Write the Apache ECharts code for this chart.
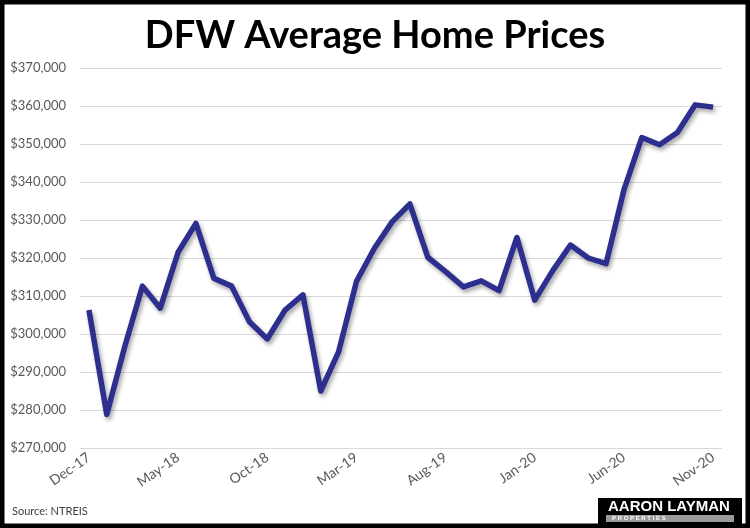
<!DOCTYPE html>
<html>
<head>
<meta charset="utf-8">
<script src="https://cdn.jsdelivr.net/npm/echarts@6/dist/echarts.min.js"></script>
<style>
html,body{margin:0;padding:0;background:#fff;}
#chart{width:750px;height:528px;}
</style>
</head>
<body>
<div id="chart"></div>
<script>
const months = ['Dec-17','Jan-18','Feb-18','Mar-18','Apr-18','May-18','Jun-18','Jul-18','Aug-18','Sep-18','Oct-18','Nov-18',
  'Dec-18','Jan-19','Feb-19','Mar-19','Apr-19','May-19','Jun-19','Jul-19','Aug-19','Sep-19','Oct-19','Nov-19',
  'Dec-19','Jan-20','Feb-20','Mar-20','Apr-20','May-20','Jun-20','Jul-20','Aug-20','Sep-20','Oct-20','Nov-20'];
const avgPrice = [306300, 278800, 296500, 312600, 306800, 321500, 329100, 314700, 312600, 303200, 298700, 306300,
  310300, 285000, 295300, 313800, 322500, 329500, 334200, 320200, 316400, 312400, 314000, 311400,
  325400, 308900, 316600, 323400, 320000, 318500, 337900, 351700, 349800, 353000, 360300, 359700];
const yTicks = {min: 270000, max: 370000, interval: 10000};
const titleText = 'DFW Average Home Prices';
const sourceText = 'Source: NTREIS';

const chart = echarts.init(document.getElementById('chart'), null, {renderer: 'canvas'});
chart.setOption({
  backgroundColor: '#fff',
  animation: false,
  title: {
    text: titleText, left: 'center', top: 12,
    textStyle: {fontFamily: 'Lato', fontWeight: 'bold', fontSize: 38, color: '#000'}
  },
  grid: {left: 80, right: 28, top: 68, height: 380},
  xAxis: {
    type: 'category', data: months, boundaryGap: true,
    axisLine: {show: false}, axisTick: {show: false},
    axisLabel: {interval: 4, rotate: 35, color: '#595959', fontFamily: 'Lato', fontSize: 14, margin: 8,
      padding: [0, 0, 0, 0]}
  },
  yAxis: {
    type: 'value', min: yTicks.min, max: yTicks.max, interval: yTicks.interval,
    axisLine: {show: false}, axisTick: {show: false},
    splitLine: {lineStyle: {color: '#D9D9D9', width: 1}},
    axisLabel: {color: '#595959', fontFamily: 'Lato', fontSize: 13, margin: 14,
      formatter: v => '$' + v.toLocaleString('en-US')}
  },
  series: [{
    type: 'line', data: avgPrice, symbol: 'none',
    lineStyle: {color: '#2D2F8F', width: 5.5, shadowColor: 'rgba(0,0,0,0.35)', shadowBlur: 4, shadowOffsetX: 2, shadowOffsetY: 3, join: 'round'}
  }],
  graphic: [
    {type: 'text', left: 12, top: 506, style: {text: sourceText, fill: '#404040', font: '11px Lato'}},
    {type: 'rect', shape: {x: 598, y: 498, width: 144, height: 28}, style: {fill: '#000'}},
    {type: 'text', left: 608, top: 499, style: {text: 'AARON LAYMAN', fill: '#fff', font: 'bold 15px "Liberation Sans"'}},
    {type: 'rect', shape: {x: 606, y: 515, width: 128, height: 7}, style: {fill: '#9a9a9a'}},
    {type: 'text', left: 612, top: 515, style: {text: 'P R O P E R T I E S', fill: '#fff', font: 'bold 6px "Liberation Sans"'}},
    {type: 'rect', shape: {x: 2, y: 2, width: 746, height: 524}, style: {fill: 'none', stroke: '#000', lineWidth: 5}}
  ]
});
</script>
</body>
</html>
